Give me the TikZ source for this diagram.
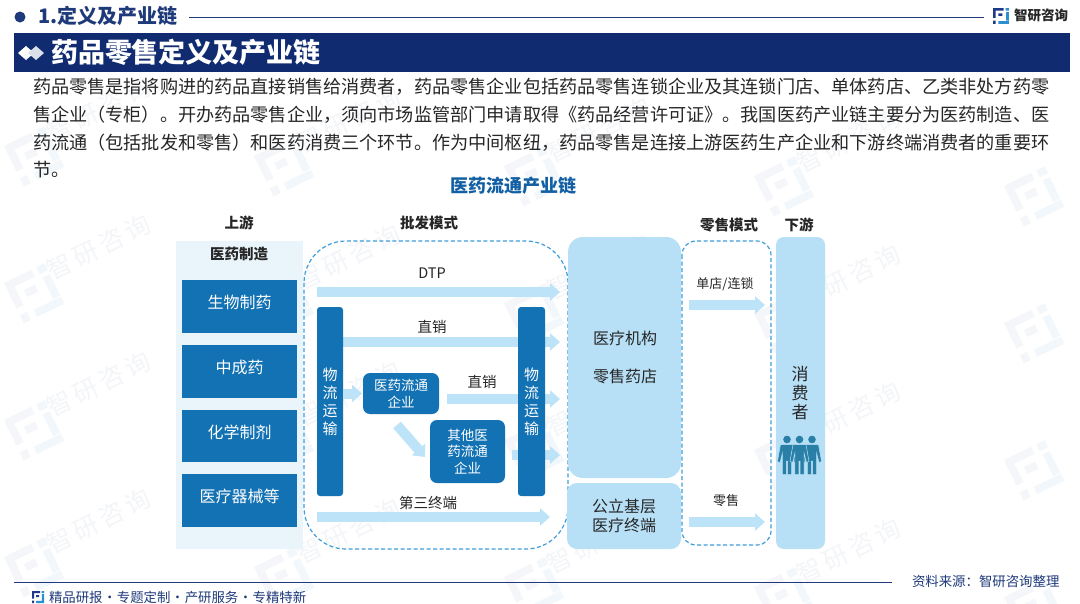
\documentclass[tikz,border=0pt]{standalone}
\usepackage{fontspec}
\setmainfont{Noto Sans CJK SC}
\usetikzlibrary{arrows.meta}
\definecolor{navy}{HTML}{102B70}
\definecolor{hdr}{HTML}{1F3A7A}
\definecolor{boxblue}{HTML}{1272B4}
\definecolor{lightb}{HTML}{B7E0F6}
\definecolor{arrowb}{HTML}{BCE3F7}
\definecolor{panel}{HTML}{EAF5FB}
\definecolor{dashb}{HTML}{3F9DDA}
\definecolor{ink}{HTML}{262626}
\definecolor{people}{HTML}{2A7FA6}
\definecolor{wm}{HTML}{F3F5F8}
\definecolor{wmd}{HTML}{F4F6F9}
\definecolor{wml}{HTML}{F1F7FB}
\definecolor{logod}{HTML}{1E3A8A}
\definecolor{logol}{HTML}{2B8FD0}
\tikzset{
 x=1pt,y=-1pt,
 every node/.style={inner sep=0pt,outer sep=0pt,font=\fontsize{16}{16}\selectfont,align=center},
 bluebox/.style={fill=boxblue},
 boxtext/.style={text=white,font=\fontsize{16}{16}\selectfont},
 flowbox/.style={fill=boxblue,text=white,rounded corners=7pt,font=\fontsize{13.5}{16.5}\selectfont},
 barbox/.style={fill=boxblue,text=white,rounded corners=3pt,font=\fontsize{15}{18}\selectfont},
 lightbox/.style={fill=lightb,text=ink,font=\fontsize{16}{19}\selectfont},
 dashbox/.style={draw=dashb,line width=1.2pt,dash pattern=on 4pt off 2.5pt},
 blockarrow/.style={draw=arrowb,line width=10pt,-{Triangle[length=10pt,width=17pt,color=arrowb]}},
 head/.style={font=\fontsize{14.5}{14.5}\selectfont\bfseries,text=ink},
 lab/.style={font=\fontsize{14.5}{14.5}\selectfont,text=ink},
 smalllab/.style={font=\fontsize{13}{13}\selectfont,text=ink},
 bodyline/.style={anchor=west,font=\fontsize{18.15}{18.15}\selectfont,text=ink},
 footertext/.style={anchor=west,text=hdr,font=\fontsize{13.4}{13.4}\selectfont},
}
\newcommand{\zylogo}[2]{%
 \fill[#1] (0,0) rectangle (10,2.6) (0,0) rectangle (2.6,9.5) (5,5) -- (9,5) -- (9,7.6) -- (5,7.6) -- cycle (0,12) rectangle (2.6,15);
 \fill[#2] (12,0) rectangle (15,2.6) (12.4,4) rectangle (15,12) (5,12.4) rectangle (15,15);}
\newcommand{\sep}{\makebox[14.3pt]{·}}
\begin{document}
\begin{tikzpicture}
\useasboundingbox (0,0) rectangle (1080,603);
\fill[white] (0,0) rectangle (1080,603);
% watermarks
\foreach \c in {0,1,2,3,4}{
 \foreach \r in {0,1,2,3}{
  \pgfmathsetmacro{\px}{99+250*\c}
  \pgfmathsetmacro{\py}{110+137*\r+10*\c}
  \ifnum\c<4
  \node[rotate=26,text=wm,font=\fontsize{25}{25}\selectfont] (wm\c\r) at (\px,\py) {智\hspace{4pt}研\hspace{4pt}咨\hspace{4pt}询};
  \fi
  \begin{scope}[shift={(\px-95,\py+36)},rotate=26,scale=3]
   \zylogo{wmd}{wml}
  \end{scope}
 }
}
% header
\fill[hdr] (20,17) circle (5.5);
\node[anchor=west,text=hdr,font=\fontsize{20}{20}\selectfont\bfseries] (sec) at (38,16) {1.定义及产业链};
\coordinate (linea) at (189,17.5);
\coordinate (lineb) at (984,17.5);
\draw[hdr,line width=.9pt] (linea) -- (lineb);
\begin{scope}[shift={(993,8)},scale=1.05]\zylogo{logod}{logol}\end{scope}
\node[anchor=west,text=ink,font=\fontsize{13.5}{13.5}\selectfont\bfseries] (brand) at (1014,15) {智研咨询};
\fill[navy] (14,33) rectangle (1070,72);
\fill[white] (18,53) -- (26,46) -- (34,53) -- (26,60) -- cycle;
\fill[white!85!navy] (28,53) -- (36,46) -- (44,53) -- (36,60) -- cycle;
\node[anchor=west,text=white,font=\fontsize{27}{27}\selectfont\bfseries] (title) at (51,52) {药品零售定义及产业链};
\node[bodyline] (b1) at (33,87) {药品零售是指将购进的药品直接销售给消费者，药品零售企业包括药品零售连锁企业及其连锁门店、单体药店、乙类非处方药零};
\node[bodyline] (b2) at (33,115) {售企业（专柜）。开办药品零售企业，须向市场监管部门申请取得《药品经营许可证》。我国医药产业链主要分为医药制造、医};
\node[bodyline] (b3) at (33,143) {药流通（包括批发和零售）和医药消费三个环节。作为中间枢纽，药品零售是连接上游医药生产企业和下游终端消费者的重要环};
\node[bodyline] (b4) at (33,170) {节。};
\node[text=boxblue!75!navy,font=\fontsize{18}{18}\selectfont\bfseries] (ctitle) at (513,186) {医药流通产业链};
% column heads
\node[head] (hup) at (239,223) {上游};
\node[head] (hwh) at (429,223) {批发模式};
\node[head] (hre) at (729,225) {零售模式};
\node[head] (hdn) at (799,225) {下游};
% left panel
\fill[panel] (176,241) rectangle (303,549);
\node[head] (mfg) at (239,254) {医药制造};
\node[bluebox,minimum width=115pt,minimum height=53pt] (m1) at (239.5,306.5) {};
\node[boxtext] (m1t) at ([yshift=4pt]m1.center) {生物制药};
\node[bluebox,minimum width=115pt,minimum height=53pt] (m2) at (239.5,371.5) {};
\node[boxtext] (m2t) at ([yshift=4pt]m2.center) {中成药};
\node[bluebox,minimum width=115pt,minimum height=52pt] (m3) at (239.5,436) {};
\node[boxtext] (m3t) at ([yshift=4pt]m3.center) {化学制剂};
\node[bluebox,minimum width=115pt,minimum height=53pt] (m4) at (239.5,500.5) {};
\node[boxtext] (m4t) at ([yshift=4pt]m4.center) {医疗器械等};
% wholesale dashed
\draw[dashbox,rounded corners=42pt] (304,241) rectangle (568,549);
\node[lab] (tdtp) at (432,273) {DTP};
\coordinate (dtpa) at (317,292); \coordinate (dtpb) at (560,292);
\draw[blockarrow] (dtpa) -- (dtpb);
\coordinate (da) at (343,342); \coordinate (db) at (560,342);
\draw[blockarrow] (da) -- (db);
\coordinate (ea) at (447,399); \coordinate (eb) at (560,399);
\draw[blockarrow] (ea) -- (eb);
\coordinate (fa) at (512,455); \coordinate (fb) at (560,455);
\draw[blockarrow] (fa) -- (fb);
\coordinate (ga) at (317,517); \coordinate (gb) at (550,517);
\draw[blockarrow] (ga) -- (gb);
\node[barbox,minimum width=26pt,minimum height=189pt] (barl) at (330,401.5) {物\\流\\运\\输};
\node[barbox,minimum width=27pt,minimum height=189pt] (barr) at (531.5,401.5) {物\\流\\运\\输};
\node[flowbox,minimum width=76pt,minimum height=41pt] (co1) at (401,393.5) {医药流通\\企业};
\node[flowbox,minimum width=75pt,minimum height=63pt] (co2) at (467.5,451.5) {其他医\\药流通\\企业};
\draw[blockarrow] (barl.east |- co1.west) -- ([xshift=-1pt]co1.west);
\coordinate (dga) at (397,425); \coordinate (dgb) at (425,457);
\draw[blockarrow] (dga) -- (dgb);
\node[lab] (tzx) at (432,327) {直销};
\node[lab] (tzx2) at (482,382) {直销};
\node[lab] (tdszd) at (428,503) {第三终端};
% retail
\node[lightbox,rounded corners=15pt,minimum width=113pt,minimum height=241pt] (inst) at (624.5,357.5) {};
\node[text=ink] (t1) at (625,338) {医疗机构};
\node[text=ink] (t2) at (625,376) {零售药店};
\node[lightbox,rounded corners=10pt,minimum width=114pt,minimum height=66pt] (pub) at (624,516) {公立基层\\医疗终端};
\draw[dashbox,rounded corners=14pt] (682,241) rectangle (771,545);
\node[smalllab] (t3) at (725,284) {单店/连锁};
\coordinate (ra) at (689,305); \coordinate (rb) at (765,305);
\draw[blockarrow] (ra) -- (rb);
\node[smalllab] (t4) at (726,501) {零售};
\coordinate (sa) at (689,522); \coordinate (sb) at (765,522);
\draw[blockarrow] (sa) -- (sb);
\node[lightbox,rounded corners=8pt,minimum width=49pt,minimum height=312pt] (cons) at (800.5,393) {};
\node[text=ink,font=\fontsize{17}{19}\selectfont] (t5) at (800,393) {消\\费\\者};
% people
\foreach \cx in {787,812,799.5}{
 \fill[people] (\cx,439.5) circle (3.8);
 \fill[people,draw=lightb,line width=.5pt] (\cx-6.5,444.5) -- (\cx+6.5,444.5) -- (\cx+9.5,461.5) -- (\cx+7,462.5) -- (\cx+4.6,453) -- (\cx+4.6,474.5) -- (\cx+.7,474.5) -- (\cx+.7,461) -- (\cx-.7,461) -- (\cx-.7,474.5) -- (\cx-4.6,474.5) -- (\cx-4.6,453) -- (\cx-7,462.5) -- (\cx-9.5,461.5) -- cycle;
}
% footer
\coordinate (fl) at (14,582); \coordinate (fr) at (892,582);
\draw[hdr,line width=.8pt] (fl) -- (fr);
\begin{scope}[shift={(32,591)},scale=.8]\zylogo{logod}{logol}\end{scope}
\node[footertext] (slogan) at (49,597) {精品研报\sep 专题定制\sep 产研服务\sep 专精特新};
\node[footertext] (src) at (912,581) {资料来源：智研咨询整理};
\end{tikzpicture}
\end{document}
